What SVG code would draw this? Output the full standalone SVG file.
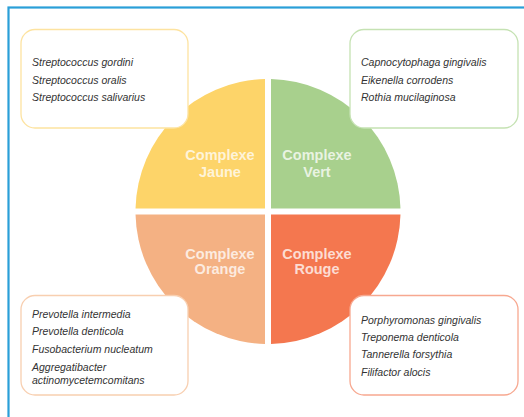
<svg xmlns="http://www.w3.org/2000/svg" width="524" height="417" viewBox="0 0 524 417">
<style>
.frame{fill:none;stroke:#2a9fd8;stroke-width:2.2}
.box{fill:#fff;stroke-width:1.3}
.sp{font-family:"Liberation Sans",Arial,sans-serif;font-style:italic;font-size:10.5px;fill:#333}
.lbl{font-family:"Liberation Sans",Arial,sans-serif;font-weight:bold;font-size:14.5px;fill:#fff;fill-opacity:0.75;text-anchor:middle}
</style>
<rect width="524" height="417" fill="#fff"/>
<rect class="frame" x="8.5" y="7.5" width="530" height="430"/>
<g id="jaune">
<path d="M265 208.5 L265 79.03 A132.5 132.5 0 0 0 135.53 208.5 Z" fill="#fdd469"/>
<text class="lbl" x="220" y="160">Complexe</text>
<text class="lbl" x="220" y="177">Jaune</text>
</g>
<g id="vert">
<path d="M271 208.5 L271 79.03 A132.5 132.5 0 0 1 400.47 208.5 Z" fill="#a8d08d"/>
<text class="lbl" x="317" y="160">Complexe</text>
<text class="lbl" x="317" y="177">Vert</text>
</g>
<g id="orange">
<path d="M265 214.5 L265 343.97 A132.5 132.5 0 0 1 135.53 214.5 Z" fill="#f4b183"/>
<text class="lbl" x="220" y="258.5">Complexe</text>
<text class="lbl" x="220" y="274">Orange</text>
</g>
<g id="rouge">
<path d="M271 214.5 L271 343.97 A132.5 132.5 0 0 0 400.47 214.5 Z" fill="#f4774f"/>
<text class="lbl" x="317" y="258.5">Complexe</text>
<text class="lbl" x="317" y="274">Rouge</text>
</g>
<g id="box-jaune">
<rect class="box" x="21" y="29.5" width="167" height="98.5" rx="14" stroke="#fde3a0"/>
<text class="sp" x="32" y="65.5">Streptococcus gordini</text>
<text class="sp" x="32" y="83.5">Streptococcus oralis</text>
<text class="sp" x="32" y="101">Streptococcus salivarius</text>
</g>
<g id="box-vert">
<rect class="box" x="350" y="29.5" width="168" height="98.5" rx="14" stroke="#c5e2b3"/>
<text class="sp" x="361" y="65.5">Capnocytophaga gingivalis</text>
<text class="sp" x="361" y="83.5">Eikenella corrodens</text>
<text class="sp" x="361" y="101">Rothia mucilaginosa</text>
</g>
<g id="box-orange">
<rect class="box" x="21" y="295.5" width="167" height="99.5" rx="14" stroke="#f8cfb0"/>
<text class="sp" x="32" y="317.5">Prevotella intermedia</text>
<text class="sp" x="32" y="335">Prevotella denticola</text>
<text class="sp" x="32" y="353">Fusobacterium nucleatum</text>
<text class="sp" x="32" y="370.5">Aggregatibacter</text>
<text class="sp" x="32" y="383.5">actinomycetemcomitans</text>
</g>
<g id="box-rouge">
<rect class="box" x="350" y="295.5" width="168" height="99.5" rx="14" stroke="#f7a890"/>
<text class="sp" x="361" y="323.5">Porphyromonas gingivalis</text>
<text class="sp" x="361" y="341">Treponema denticola</text>
<text class="sp" x="361" y="358">Tannerella forsythia</text>
<text class="sp" x="361" y="376">Filifactor alocis</text>
</g>
<g id="connectors"></g>
</svg>
